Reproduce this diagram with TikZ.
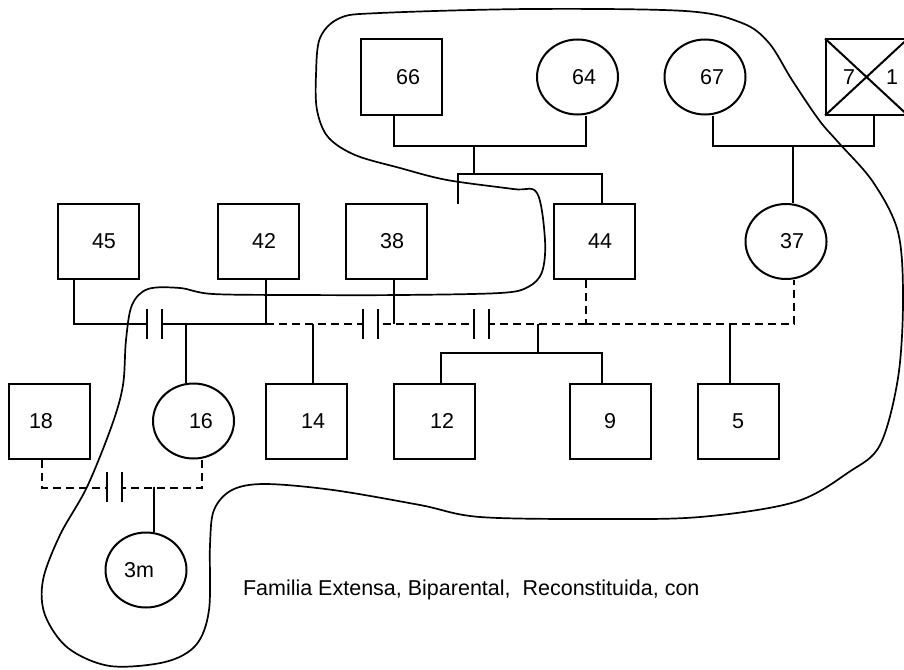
\documentclass[tikz,border=0pt]{standalone}
\usepackage{fontspec}
\setmainfont{Liberation Sans}
\usetikzlibrary{shapes.geometric}
\begin{document}
\begin{tikzpicture}[x=1pt,y=-1pt,line width=2pt,
  sq/.style={draw, rectangle, minimum width=81pt, minimum height=75pt, inner sep=0pt},
  ci/.style={draw, ellipse, minimum width=81pt, minimum height=75pt, inner sep=0pt},
  lbl/.style={font=\fontsize{21.5}{24}\selectfont, inner sep=0pt},
  dsh/.style={dash pattern=on 8pt off 5pt},
  encl/.style={line width=1.7pt}
]
\useasboundingbox (0,0) rectangle (904,669);
\fill[white] (0,0) rectangle (904,669);
\clip (0,0) rectangle (904,669);

% ---- row 1
\node[sq] (n66) at (401.5,77) {};
\node[ci] (n64) at (577.5,77) {};
\node[ci] (n67) at (705,77) {};
\node[sq] (n71) at (866.5,77) {};
\draw (n71.north west) -- (n71.south east) (n71.north east) -- (n71.south west);
% ---- row 2
\node[sq] (n45) at (98,241.5) {};
\node[sq] (n42) at (258,241.5) {};
\node[sq] (n38) at (386,241.5) {};
\node[sq] (n44) at (594,241.5) {};
\node[ci] (n37) at (786,241.5) {};
% ---- row 3
\node[sq] (n18) at (49.5,421) {};
\node[ci] (n16) at (193.5,421) {};
\node[sq] (n14) at (306.5,421) {};
\node[sq] (n12) at (434,421) {};
\node[sq] (n9)  at (610,421) {};
\node[sq] (n5)  at (738,421) {};
\node[ci] (n3m) at (146,570) {};

% ---- labels
\node[lbl] (t66) at (408,77) {66};
\node[lbl] (t64) at (584,77) {64};
\node[lbl] (t67) at (712,77) {67};
\node[lbl] (t7)  at (849,77) {7};
\node[lbl] (t1)  at (892,77) {1};
\node[lbl] (t45) at (104,241) {45};
\node[lbl] (t42) at (264,241) {42};
\node[lbl] (t38) at (392,241) {38};
\node[lbl] (t44) at (600,241) {44};
\node[lbl] (t37) at (792,241) {37};
\node[lbl] (t18) at (41,421) {18};
\node[lbl] (t16) at (201,421) {16};
\node[lbl] (t14) at (313,421) {14};
\node[lbl] (t12) at (442,421) {12};
\node[lbl] (t9)  at (610,421) {9};
\node[lbl] (t5)  at (738,421) {5};
\node[lbl] (t3m) at (139,570) {3m};
\node[lbl, anchor=base west] (cap) at (242,595) {Familia Extensa, Biparental,~ Reconstituida, con};

% ---- coordinates
\coordinate (k1) at (474,145);
\coordinate (s1) at (474,174);
\coordinate (s1l) at (458,174);
\coordinate (stub) at (458,204);
\coordinate (k2) at (793,145);
\coordinate (j42) at (266,324);
\coordinate (j38) at (394,324);
\coordinate (j44) at (586,324);
\coordinate (c16) at (186,324);
\coordinate (c14) at (313,324);
\coordinate (c129) at (538,324);
\coordinate (s2) at (538,353);
\coordinate (c5) at (730,324);
\coordinate (c3m) at (154,487);
\coordinate (m1) at (154,324);
\coordinate (m2) at (370,324);
\coordinate (m3) at (481.5,324);
\coordinate (m4) at (114,487);

% ---- generation 1
\draw ([xshift=-7.5pt]n66.south) -- ++(0,30) -| ([xshift=8.5pt]n64.south);
\draw (k1) -- (s1);
\draw (stub) -- (s1l) -| ([xshift=8pt]n44.north);
\draw ([xshift=8pt]n67.south) -- ++(0,30) -| ([xshift=7.5pt]n71.south);
\draw (k2) -- ([xshift=7pt]n37.north);

% ---- generation 2
\draw ([xshift=-24pt]n45.south) |- (j42);
\draw ([xshift=8pt]n42.south) -- (j42);
\draw ([xshift=8pt]n38.south) -- (j38);
\draw[dsh] (j42) -- (j38) -- (j44);
\draw[dsh] ([xshift=-8pt]n44.south) -- (j44);
\draw[dsh] (j44) -| ([xshift=8pt]n37.south);
\draw (c16) -- ([xshift=-7.5pt]n16.north);
\draw (c14) -- ([xshift=6.5pt]n14.north);
\draw (c129) -- (s2);
\draw ([xshift=7pt]n12.north) -- ++(0,-30) -| ([xshift=-8pt]n9.north);
\draw (c5) -- ([xshift=-8pt]n5.north);

% ---- generation 3
\draw[dsh] ([xshift=-7.5pt]n18.south) -- ++(0,28) -| ([xshift=8.5pt]n16.south);
\draw (c3m) -- ([xshift=8pt]n3m.north);

% ---- divorce marks (gap between the two bars)
\foreach \m in {m1,m2,m3,m4}{
  \fill[white] ([xshift=-7.5pt,yshift=-3pt]\m) rectangle ([xshift=7.5pt,yshift=3pt]\m);
  \draw ([xshift=-7.5pt]\m) +(0,-15) -- +(0,15)
        ([xshift=7.5pt]\m) +(0,-15) -- +(0,15);
}

% ---- enclosure
\draw[encl] plot[smooth cycle, tension=0.55] coordinates {
 (316,75) (320,38) (340,18) (380,13) (530,9) (685,11) (742,23) (769,43)
 (792,80) (819,120) (838,142) (873,182) (898,232) (903,300) (898,378)
 (880,445) (849,472) (795,502) (700,517) (600,519) (480,517) (420,505)
 (333,490) (265,484) (232,490) (214,510) (210,545) (209,610) (196,645)
 (165,662) (110,666) (68,648) (45,615) (43,580) (60,535) (87,487)
 (112,425) (123,385) (126,340) (132,305) (148,289) (180,288) (213,294)
 (300,295) (400,295) (500,293) (528,287) (542,272) (545,240) (537,193)
 (513,189) (447,180) (400,168) (355,155) (328,137) (317,110)};
\end{tikzpicture}
\end{document}
